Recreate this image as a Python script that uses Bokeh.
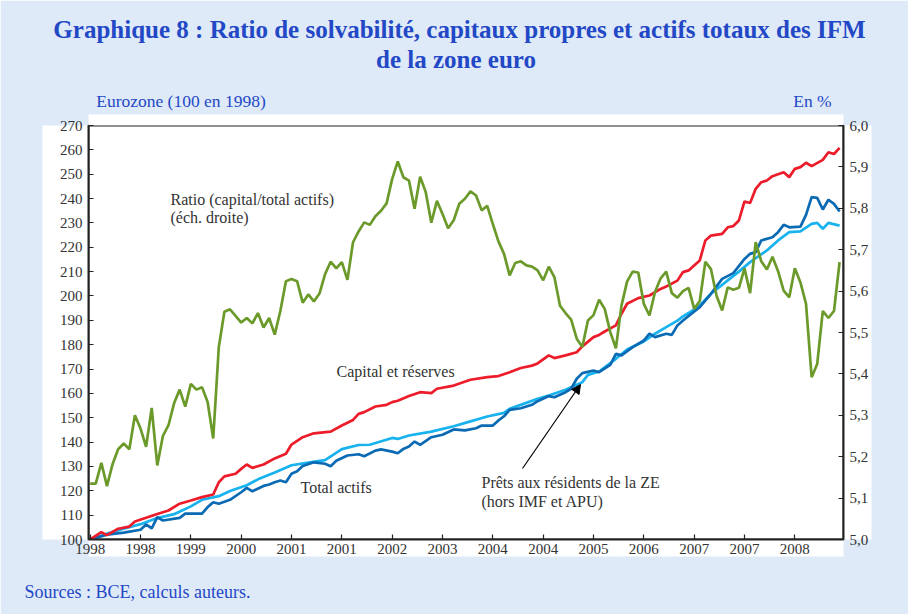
from bokeh.plotting import figure
from bokeh.models import (Range1d, LinearAxis, FixedTicker, Label, Arrow, NormalHead,
                          CustomJSTickFormatter)
from bokeh.embed import file_html
from bokeh.resources import INLINE

# ---------------- data (month index since Jan 1998) ----------------
tick_pos = [0, 9, 18, 27, 36, 45, 54, 63, 72, 81, 90, 99, 108, 117, 126]
tick_labels = ["1998", "1998", "1999", "2000", "2001", "2001", "2002", "2003",
               "2004", "2004", "2005", "2006", "2007", "2007", "2008"]

ratio_pct = [5.135, 5.135, 5.185, 5.129, 5.182, 5.218, 5.232, 5.218, 5.300, 5.268,
             5.224, 5.318, 5.179, 5.250, 5.276, 5.329, 5.362, 5.321, 5.376, 5.362,
             5.368, 5.332, 5.244, 5.465, 5.550, 5.556, 5.540, 5.524, 5.535, 5.522,
             5.547, 5.512, 5.535, 5.495, 5.552, 5.624, 5.629, 5.624, 5.572, 5.592,
             5.575, 5.594, 5.641, 5.671, 5.655, 5.670, 5.627, 5.718, 5.744, 5.766,
             5.760, 5.781, 5.794, 5.812, 5.871, 5.913, 5.875, 5.867, 5.799, 5.876,
             5.839, 5.765, 5.818, 5.786, 5.752, 5.771, 5.811, 5.823, 5.841, 5.831,
             5.795, 5.806, 5.762, 5.720, 5.690, 5.638, 5.668, 5.672, 5.662, 5.659,
             5.650, 5.626, 5.659, 5.634, 5.565, 5.547, 5.531, 5.485, 5.465, 5.529,
             5.542, 5.579, 5.557, 5.501, 5.462, 5.565, 5.623, 5.647, 5.645, 5.569,
             5.541, 5.598, 5.631, 5.647, 5.595, 5.584, 5.600, 5.608, 5.557, 5.576,
             5.671, 5.653, 5.589, 5.553, 5.609, 5.603, 5.608, 5.655, 5.595, 5.718,
             5.672, 5.652, 5.683, 5.648, 5.601, 5.585, 5.655, 5.621, 5.569, 5.392,
             5.424, 5.552, 5.535, 5.552, 5.670]
ratio_month = list(range(len(ratio_pct)))

capital_month = [0, 2, 3, 5, 7, 8, 10, 12, 14, 16, 18, 20, 22, 23, 24, 26, 27, 28, 29, 31,
                 33, 35, 36, 38, 40, 43, 45, 47, 48, 49, 51, 53, 54, 55, 57, 59, 61, 62, 65, 68,
                 71, 73, 75, 77, 79, 80, 82, 83, 85, 87, 88, 90, 91, 92, 94, 95, 96, 98, 100, 102,
                 103, 105, 106, 107, 109, 110, 111, 113, 114, 115, 116, 117, 118, 119, 120, 121,
                 122, 124, 125, 126, 127, 128, 129, 131, 132, 133, 134]
capital = [100, 103, 101.8, 104.4, 105.3, 107.4, 108.9, 110.5, 111.9, 114.7, 116, 117.4,
           118.5, 123.5, 125.9, 127, 129, 130.8, 129.4, 130.8, 133.3, 135.2, 139, 142, 143.6,
           144.3, 146.8, 149.1, 151.6, 152.3, 154.6, 155.3, 156.4, 157, 158.9, 160.5, 160.1,
           161.9, 163.2, 165.6, 166.7, 167.1, 168.7, 170.4, 171.4, 172.3, 175.6, 174.5, 175.6,
           176.9, 179.3, 183.1, 184, 185.4, 187.9, 192.7, 196.8, 199.1, 200.2, 202.9, 203.9,
           206.3, 209.8, 210.5, 214.6, 222.8, 224.8, 225.5, 228.2, 228.7, 231, 238.8, 238.2,
           244, 246.7, 247.4, 249.2, 250.8, 248.8, 252.2, 252.9, 254.7, 253.3, 255.9, 259,
           258.3, 260.8]

assets_month = [0, 3, 6, 9, 10, 11, 12, 13, 16, 17, 20, 21, 22, 23, 25, 27, 28, 29, 31, 32,
                33, 34, 35, 36, 37, 38, 40, 42, 43, 44, 46, 48, 49, 51, 52, 54, 55, 56, 57, 58,
                59, 61, 63, 65, 67, 69, 70, 72, 73, 74, 75, 77, 78, 79, 80, 82, 83, 85, 86, 87,
                88, 90, 91, 93, 94, 95, 97, 99, 100, 101, 103, 104, 105, 106, 107, 109, 111, 113,
                115, 117, 118, 119, 120, 122, 123, 124, 125, 127, 128, 129, 130, 131, 132, 133,
                134]
assets = [100, 102, 102.8, 104, 106.2, 104.6, 109.2, 107.8, 108.9, 110.6, 110.6, 113.3,
          115.3, 114.7, 116.3, 119.4, 121.2, 119.8, 122, 122.6, 123.5, 124.2, 123.5, 127, 128,
          130.2, 131.7, 131.1, 130.1, 132.3, 134.5, 135, 134.2, 136.5, 137, 136.1, 135.4,
          137.2, 138.2, 140.2, 138.9, 142, 143, 145.2, 144.8, 145.7, 146.8, 146.8, 148.9,
          150.6, 153.2, 153.9, 154.6, 155.3, 156.8, 158.9, 158.4, 160.5, 161.9, 166, 168.3,
          169.4, 168.7, 171.7, 176.2, 175.6, 179, 181.7, 184.5, 183.1, 184.5, 184, 187.9, 189.9,
          191.8, 195.4, 200.9, 207, 209.4, 215.2, 217.3, 218, 222.8, 224.1, 226.2, 229.2, 228.2,
          228.5, 233.3, 240.6, 240.3, 235.5, 239.5, 237.8, 234.7]

loans_month = [0, 3, 6, 9, 12, 15, 18, 20, 23, 25, 28, 30, 33, 36, 39, 42, 45, 48, 50, 54,
               55, 57, 61, 65, 68, 71, 74, 75, 78, 80, 82, 85, 88, 89, 91, 94, 96, 99, 101, 103,
               105, 106, 107, 109, 111, 114, 116, 118, 121, 123, 125, 127, 129, 130, 131, 132,
               134]
loans = [100, 102.4, 104.4, 106.3, 108.8, 110.4, 113.6, 116.3, 117.8, 119.9, 122.3, 124.7,
         127.5, 130.5, 131.6, 132.6, 137.1, 138.8, 138.9, 141.7, 141.3, 142.7, 144.3, 146.5,
         148.5, 150.5, 152, 153.7, 156.1, 157.8, 159.1, 161.5, 164.6, 167.6, 169, 174.2, 178,
         181.3, 184.5, 187.2, 189.9, 191.6, 193, 196.1, 200.9, 206.4, 210, 213.9, 218.7, 222.8,
         226.2, 226.5, 229.6, 230, 227.6, 230, 228.9]

title_1 = "Graphique 8 : Ratio de solvabilité, capitaux propres et actifs totaux des IFM"
title_2 = "de la zone euro"
left_caption = "Eurozone (100 en 1998)"
right_caption = "En %"
source_text = "Sources : BCE, calculs auteurs."

# ---------------- geometry helpers (page pixels -> data) ----------------
W, H = 908, 614
X0, X1 = -0.3, 134.7
Y0, Y1 = 100, 270
FL, FR, FT, FB = 88, 843, 125, 539


def dx(px):
    return X0 + (px - FL) / (FR - FL) * (X1 - X0)


def dy(py):
    return Y0 + (FB - py) / (FB - FT) * (Y1 - Y0)


BG = "#dfeaf8"
BLUE_TXT = "#2348c6"
TXT = "#333333"
FONT = "Liberation Serif"

p = figure(width=W, height=H, output_backend="svg", toolbar_location=None,
           title_location=None,
           x_range=Range1d(X0, X1), y_range=Range1d(Y0, Y1),
           min_border_left=FL, min_border_right=W - FR, min_border_top=FT,
           min_border_bottom=H - FB)
p.border_fill_color = BG
p.background_fill_color = "white"
p.outline_line_color = "#222222"
p.outline_line_width = 2
p.xgrid.visible = False
p.ygrid.visible = False

p.extra_y_ranges = {"ratio": Range1d(5.0, 6.0)}


def set_bg(ax, color):
    if "background_fill_color" in ax.properties():
        ax.background_fill_color = color


def style_axis(ax):
    ax.axis_line_color = "#222222"
    ax.axis_line_width = 2
    ax.major_tick_in = 5
    ax.major_tick_out = 0
    ax.minor_tick_line_color = None
    ax.major_tick_line_color = "#222222"
    ax.major_tick_line_width = 1.2
    ax.major_label_text_font = FONT
    ax.major_label_text_font_size = "15px"
    ax.major_label_text_color = TXT
    ax.major_label_standoff = 6
    set_bg(ax, "white")


def text_axis(positions, code, standoff, size, style="normal"):
    ax = LinearAxis(ticker=FixedTicker(ticks=positions),
                    formatter=CustomJSTickFormatter(code=code))
    ax.axis_line_color = None
    ax.major_tick_line_color = None
    ax.minor_tick_line_color = None
    ax.major_tick_in = 0
    ax.major_tick_out = 0
    ax.major_label_standoff = standoff
    ax.major_label_text_font = FONT
    ax.major_label_text_font_size = size
    ax.major_label_text_font_style = style
    ax.major_label_text_color = BLUE_TXT
    return ax


p.yaxis.ticker = FixedTicker(ticks=list(range(100, 271, 10)))
style_axis(p.yaxis[0])
p.yaxis.axis_label = " "
p.yaxis.axis_label_text_font_size = "10px"
p.yaxis.axis_label_standoff = 0

p.xaxis.ticker = FixedTicker(ticks=tick_pos)
p.xaxis.major_label_overrides = {t: l for t, l in zip(tick_pos, tick_labels)}
style_axis(p.xaxis[0])
p.xaxis.major_label_standoff = 4

right = LinearAxis(y_range_name="ratio",
                   ticker=FixedTicker(ticks=[5.0 + i / 10 for i in range(11)]),
                   formatter=CustomJSTickFormatter(code="return tick.toFixed(1).replace('.', ',');"))
style_axis(right)
p.add_layout(right, "right")

# thin white strip just above the frame (part of the white chart panel)
strip = LinearAxis(ticker=FixedTicker(ticks=[]))
strip.axis_line_color = None
strip.major_tick_line_color = None
strip.minor_tick_line_color = None
strip.major_tick_in = 0
strip.major_tick_out = 0
strip.axis_label = " "
strip.axis_label_text_font_size = "7px"
strip.axis_label_standoff = 1
set_bg(strip, "white")
p.add_layout(strip, "above")

# rows above the frame: captions, second title line, main title
p.add_layout(text_axis([dx(180.5), dx(812)],
                       "return tick < 60 ? %r : %r;" % (left_caption, right_caption),
                       4, "17.5px"), "above")
p.add_layout(text_axis([dx(455.5)], "return %r;" % title_2, 15, "25px", "bold"), "above")
p.add_layout(text_axis([dx(459)], "return %r;" % title_1, 0, "25px", "bold"), "above")
# source row below the x axis
p.add_layout(text_axis([dx(137)], "return %r;" % source_text, 25, "18px"), "below")

# ---------------- series ----------------
p.line(loans_month, loans, line_color="#18b2ee", line_width=2.7)
p.line(assets_month, assets, line_color="#0a6ab4", line_width=2.7)
p.line(capital_month, capital, line_color="#ec1c2a", line_width=2.7)
p.line(ratio_month, ratio_pct, y_range_name="ratio", line_color="#6b9a2b", line_width=2.7)


# ---------------- annotations ----------------
def lab(text, px, py, size="16px", color=TXT, align="left"):
    p.add_layout(Label(x=dx(px), y=dy(py), text=text, text_font=FONT,
                       text_font_size=size, text_color=color, text_align=align,
                       text_baseline="middle"))


lab("Ratio (capital/total actifs)", 170, 199)
lab("(éch. droite)", 170, 217)
lab("Capital et réserves", 336, 371)
lab("Total actifs", 300, 487)
lab("Prêts aux résidents de la ZE", 481, 482)
lab("(hors IMF et APU)", 481, 501)

p.add_layout(Arrow(end=NormalHead(size=9, fill_color="black", line_color="black"),
                   x_start=dx(522), y_start=dy(468), x_end=dx(580), y_end=dy(384),
                   line_color="black", line_width=1.2))

open("out.html", "w").write(file_html(p, INLINE))
